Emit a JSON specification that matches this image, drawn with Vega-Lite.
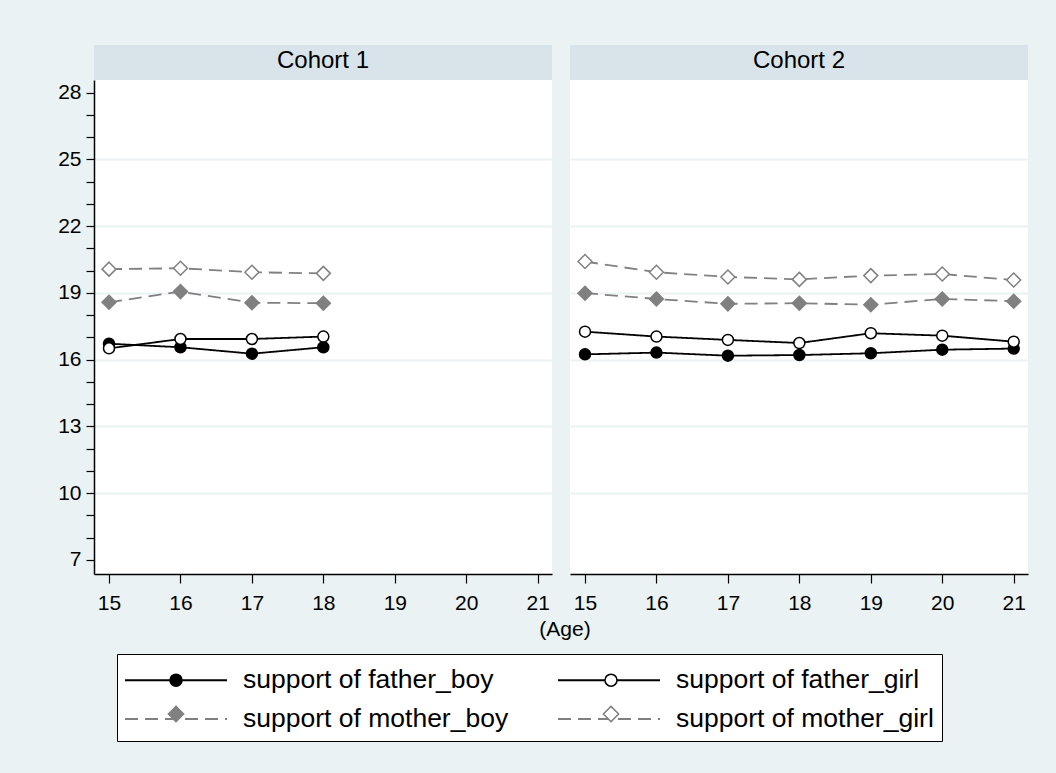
{
  "$schema": "https://vega.github.io/schema/vega-lite/v6.json",
  "background": "#EAF2F3",
  "padding": {"left": 57, "top": 45, "right": 28, "bottom": 31},
  "config": {
    "font": "Liberation Sans",
    "view": {"stroke": null, "fill": "white"},
    "axis": {
      "labelFont": "Liberation Sans",
      "labelFontSize": 21,
      "labelColor": "black",
      "tickColor": "black",
      "tickWidth": 1.2,
      "domainColor": "black",
      "domainWidth": 1.5,
      "title": null,
      "labelOverlap": false
    }
  },
  "datasets": {
    "d": [
      {"cohort": 1, "age": 15, "series": "support of father_boy", "value": 16.72},
      {"cohort": 1, "age": 16, "series": "support of father_boy", "value": 16.56},
      {"cohort": 1, "age": 17, "series": "support of father_boy", "value": 16.27},
      {"cohort": 1, "age": 18, "series": "support of father_boy", "value": 16.56},
      {"cohort": 1, "age": 15, "series": "support of father_girl", "value": 16.51},
      {"cohort": 1, "age": 16, "series": "support of father_girl", "value": 16.93},
      {"cohort": 1, "age": 17, "series": "support of father_girl", "value": 16.93},
      {"cohort": 1, "age": 18, "series": "support of father_girl", "value": 17.04},
      {"cohort": 1, "age": 15, "series": "support of mother_boy", "value": 18.58},
      {"cohort": 1, "age": 16, "series": "support of mother_boy", "value": 19.06},
      {"cohort": 1, "age": 17, "series": "support of mother_boy", "value": 18.56},
      {"cohort": 1, "age": 18, "series": "support of mother_boy", "value": 18.54},
      {"cohort": 1, "age": 15, "series": "support of mother_girl", "value": 20.07},
      {"cohort": 1, "age": 16, "series": "support of mother_girl", "value": 20.11},
      {"cohort": 1, "age": 17, "series": "support of mother_girl", "value": 19.93},
      {"cohort": 1, "age": 18, "series": "support of mother_girl", "value": 19.88},
      {"cohort": 2, "age": 15, "series": "support of father_boy", "value": 16.24},
      {"cohort": 2, "age": 16, "series": "support of father_boy", "value": 16.32},
      {"cohort": 2, "age": 17, "series": "support of father_boy", "value": 16.18},
      {"cohort": 2, "age": 18, "series": "support of father_boy", "value": 16.21},
      {"cohort": 2, "age": 19, "series": "support of father_boy", "value": 16.29},
      {"cohort": 2, "age": 20, "series": "support of father_boy", "value": 16.45},
      {"cohort": 2, "age": 21, "series": "support of father_boy", "value": 16.50},
      {"cohort": 2, "age": 15, "series": "support of father_girl", "value": 17.26},
      {"cohort": 2, "age": 16, "series": "support of father_girl", "value": 17.04},
      {"cohort": 2, "age": 17, "series": "support of father_girl", "value": 16.89},
      {"cohort": 2, "age": 18, "series": "support of father_girl", "value": 16.75},
      {"cohort": 2, "age": 19, "series": "support of father_girl", "value": 17.19},
      {"cohort": 2, "age": 20, "series": "support of father_girl", "value": 17.08},
      {"cohort": 2, "age": 21, "series": "support of father_girl", "value": 16.81},
      {"cohort": 2, "age": 15, "series": "support of mother_boy", "value": 18.99},
      {"cohort": 2, "age": 16, "series": "support of mother_boy", "value": 18.73},
      {"cohort": 2, "age": 17, "series": "support of mother_boy", "value": 18.51},
      {"cohort": 2, "age": 18, "series": "support of mother_boy", "value": 18.54},
      {"cohort": 2, "age": 19, "series": "support of mother_boy", "value": 18.47},
      {"cohort": 2, "age": 20, "series": "support of mother_boy", "value": 18.73},
      {"cohort": 2, "age": 21, "series": "support of mother_boy", "value": 18.63},
      {"cohort": 2, "age": 15, "series": "support of mother_girl", "value": 20.41},
      {"cohort": 2, "age": 16, "series": "support of mother_girl", "value": 19.93},
      {"cohort": 2, "age": 17, "series": "support of mother_girl", "value": 19.72},
      {"cohort": 2, "age": 18, "series": "support of mother_girl", "value": 19.61},
      {"cohort": 2, "age": 19, "series": "support of mother_girl", "value": 19.78},
      {"cohort": 2, "age": 20, "series": "support of mother_girl", "value": 19.85},
      {"cohort": 2, "age": 21, "series": "support of mother_girl", "value": 19.58}
    ]
  },
  "spacing": 5,
  "vconcat": [
    {
      "spacing": 18,
      "hconcat": [
        {
          "spacing": 0,
          "vconcat": [
            {
              "width": 458, "height": 35,
              "view": {"fill": "#D8E4EA", "stroke": null},
              "data": {"values": [{"t": "Cohort 1"}]},
              "mark": {"type": "text", "fontSize": 24, "baseline": "middle", "dy": -2, "color": "black", "font": "Liberation Sans"},
              "encoding": {"text": {"field": "t", "type": "nominal"}}
            },
            {
              "width": 458, "height": 494,
              "data": {"name": "d"},
              "transform": [{"filter": "datum.cohort == 1"}],
              "encoding": {
                "x": {"field": "age", "type": "quantitative",
                  "scale": {"domain": [14.79, 21.2], "nice": false, "zero": false},
                  "axis": {"values": [15, 16, 17, 18, 19, 20, 21], "format": "d", "grid": false, "tickSize": 9, "labelPadding": 9, "labelFlush": false, "labelFontSize": 21}},
                "y": {"field": "value", "type": "quantitative",
                  "scale": {"domain": [6.37, 28.57], "nice": false, "zero": false},
                  "axis": {"values": [7, 8, 9, 10, 11, 12, 13, 14, 15, 16, 17, 18, 19, 20, 21, 22, 23, 24, 25, 26, 27, 28],
                    "labelExpr": "datum.value % 3 == 1 ? datum.label : ''", "labelFontSize": 21,
                    "tickSize": 8, "labelPadding": 5, "grid": true, "gridWidth": 2,
                    "gridColor": {"condition": {"test": "datum.value >= 10 && datum.value <= 25 && datum.value % 3 == 1", "value": "#EAF2F3"}, "value": "transparent"}}}
              },
              "layer": [
                {
                  "mark": {"type": "line", "strokeWidth": 1.8},
                  "encoding": {
                    "color": {"field": "series", "type": "nominal",
                      "scale": {"range": ["black", "black", "#808080", "#808080"]},
                      "legend": {"orient": "none", "legendX": 23, "legendY": 609, "direction": "horizontal", "columns": 2, "title": null,
                        "symbolType": "M-3,0H3", "symbolSize": 1156, "symbolStrokeWidth": 2, "symbolOffset": 33,
                        "labelOffset": 49, "labelFontSize": 26.5, "labelColor": "black", "labelLimit": 500,
                        "columnPadding": 45, "rowPadding": 7, "padding": 8, "strokeColor": "black", "fillColor": "white", "cornerRadius": 0}},
                    "strokeDash": {"field": "series", "type": "nominal",
                      "scale": {"range": [[1, 0], [1, 0], [13, 7], [13, 7]]},
                      "legend": {"orient": "none", "legendX": 23, "legendY": 609, "direction": "horizontal", "columns": 2, "title": null,
                        "symbolType": "M-3,0H3", "symbolSize": 1156, "symbolStrokeWidth": 2, "symbolOffset": 33,
                        "labelOffset": 49, "labelFontSize": 26.5, "labelColor": "black", "labelLimit": 500,
                        "columnPadding": 45, "rowPadding": 7, "padding": 8, "strokeColor": "black", "fillColor": "white", "cornerRadius": 0}}
                  }
                },
                {
                  "mark": {"type": "point", "size": 121, "strokeWidth": 1.5, "opacity": 1},
                  "encoding": {
                    "shape": {"field": "series", "type": "nominal",
                      "scale": {"domain": ["support of father_boy", "support of father_girl", "support of mother_boy", "support of mother_girl"],
                        "range": ["circle", "circle", "M0,-1.27L1.27,0L0,1.27L-1.27,0Z", "M0,-1.27L1.27,0L0,1.27L-1.27,0Z"]},
                      "legend": {"orient": "none", "legendX": 68.75, "legendY": 621.75, "direction": "horizontal", "columns": 2, "title": null,
                        "symbolSize": 144, "symbolStrokeWidth": 1.5, "labelOffset": 0, "labelExpr": "' '", "labelFontSize": 26.5, "labelColor": "transparent", "labelLimit": 500,
                        "columnPadding": 408, "rowPadding": 7, "padding": 0, "zindex": 1}},
                    "fill": {"field": "series", "type": "nominal",
                      "scale": {"domain": ["support of father_boy", "support of father_girl", "support of mother_boy", "support of mother_girl"],
                        "range": ["black", "white", "#808080", "white"]},
                      "legend": {"orient": "none", "legendX": 68.75, "legendY": 621.75, "direction": "horizontal", "columns": 2, "title": null,
                        "symbolSize": 144, "symbolStrokeWidth": 1.5, "labelOffset": 0, "labelExpr": "' '", "labelFontSize": 26.5, "labelColor": "transparent", "labelLimit": 500,
                        "columnPadding": 408, "rowPadding": 7, "padding": 0, "zindex": 1}},
                    "stroke": {"field": "series", "type": "nominal",
                      "scale": {"domain": ["support of father_boy", "support of father_girl", "support of mother_boy", "support of mother_girl"],
                        "range": ["black", "black", "#808080", "#808080"]},
                      "legend": {"orient": "none", "legendX": 68.75, "legendY": 621.75, "direction": "horizontal", "columns": 2, "title": null,
                        "symbolSize": 144, "symbolStrokeWidth": 1.5, "labelOffset": 0, "labelExpr": "' '", "labelFontSize": 26.5, "labelColor": "transparent", "labelLimit": 500,
                        "columnPadding": 408, "rowPadding": 7, "padding": 0, "zindex": 1}}
                  }
                }
              ]
            }
          ]
        },
        {
          "spacing": 0,
          "vconcat": [
            {
              "width": 458, "height": 35,
              "view": {"fill": "#D8E4EA", "stroke": null},
              "data": {"values": [{"t": "Cohort 2"}]},
              "mark": {"type": "text", "fontSize": 24, "baseline": "middle", "dy": -2, "color": "black", "font": "Liberation Sans"},
              "encoding": {"text": {"field": "t", "type": "nominal"}}
            },
            {
              "width": 458, "height": 494,
              "data": {"name": "d"},
              "transform": [{"filter": "datum.cohort == 2"}],
              "encoding": {
                "x": {"field": "age", "type": "quantitative",
                  "scale": {"domain": [14.79, 21.2], "nice": false, "zero": false},
                  "axis": {"values": [15, 16, 17, 18, 19, 20, 21], "format": "d", "grid": false, "tickSize": 9, "labelPadding": 9, "labelFlush": false, "labelFontSize": 21}},
                "y": {"field": "value", "type": "quantitative",
                  "scale": {"domain": [6.37, 28.57], "nice": false, "zero": false},
                  "axis": {"values": [10, 13, 16, 19, 22, 25], "grid": true, "gridWidth": 2, "gridColor": "#EAF2F3", "labels": false, "ticks": false, "domain": false}}
              },
              "layer": [
                {
                  "mark": {"type": "line", "strokeWidth": 1.8},
                  "encoding": {
                    "color": {"field": "series", "type": "nominal"},
                    "strokeDash": {"field": "series", "type": "nominal"}
                  }
                },
                {
                  "mark": {"type": "point", "size": 121, "strokeWidth": 1.5, "opacity": 1},
                  "encoding": {
                    "shape": {"field": "series", "type": "nominal"},
                    "fill": {"field": "series", "type": "nominal"},
                    "stroke": {"field": "series", "type": "nominal"}
                  }
                }
              ]
            }
          ]
        }
      ]
    },
    {
      "width": 934, "height": 24,
      "view": {"fill": "transparent", "stroke": null},
      "data": {"values": [{"t": "(Age)"}]},
      "mark": {"type": "text", "fontSize": 21, "dx": 4, "baseline": "middle", "color": "black", "font": "Liberation Sans"},
      "encoding": {"text": {"field": "t", "type": "nominal"}}
    }
  ]
}
